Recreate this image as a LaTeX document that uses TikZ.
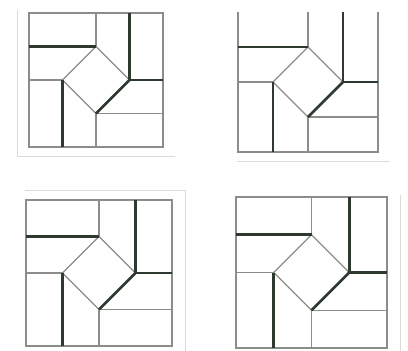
\documentclass[tikz,border=0pt]{standalone}
\usetikzlibrary{calc}
\definecolor{paper}{HTML}{FFFFFF}
\definecolor{scanedge}{HTML}{DADAD6}
\definecolor{edge}{HTML}{8C8C88}
\definecolor{ink}{HTML}{2E3A30}

\tikzset{
  thinline/.style={draw=edge,line width=1.1pt},
  thickline/.style={draw=ink,line width=2.8pt},
  scanline/.style={draw=scanedge,line width=0.8pt},
}

\begin{document}
\begin{tikzpicture}[x=1pt,y=-1pt]
\fill[paper] (0,0) rectangle (408,351);
\useasboundingbox (0,0) rectangle (408,351);
% edges of the scanned sheets
\draw[scanline] (17,10) -- (17,156) -- (175,156);
\draw[scanline] (237,161) -- (390,161);
\draw[scanline] (25,190) -- (185,190) -- (185,351);
\draw[scanline] (400,195) -- (400,351);
% the four pinwheel squares
\foreach \px/\py/\ps/\open in {29/13/134/0, 238/12/140/1, 26/200/146/0, 236/197/151/0}{
  \pgfmathsetmacro\u{\ps/4}
  \begin{scope}[shift={(\px,\py)},x=\u pt,y=-\u pt]
    \coordinate (dtop) at (2,1);
    \coordinate (dright) at (3,2);
    \coordinate (dbot) at (2,3);
    \coordinate (dleft) at (1,2);
    % outline
    \ifnum\open=1
      \draw[thinline] (0,0) -- (0,4) -- (4,4) -- (4,0);
    \else
      \draw[thinline] (0,0) rectangle (4,4);
    \fi
    % thin joints
    \draw[thinline] (2,0) -- (dtop);
    \draw[thinline] (0,2) -- (dleft);
    \draw[thinline] (dbot) -- (2,4);
    \draw[thinline] (dbot) -- (4,3);
    \draw[thinline] (dleft) -- (dtop) -- (dright);
    \draw[thinline] (dleft) -- (dbot);
    % thick joints
    \draw[thickline] (0,1) -- (dtop);
    \draw[thickline] (3,0) -- (dright) -- (4,2);
    \draw[thickline] (dright) -- (dbot);
    \draw[thickline] (dleft) -- (1,4);
  \end{scope}
}
\end{tikzpicture}
\end{document}
